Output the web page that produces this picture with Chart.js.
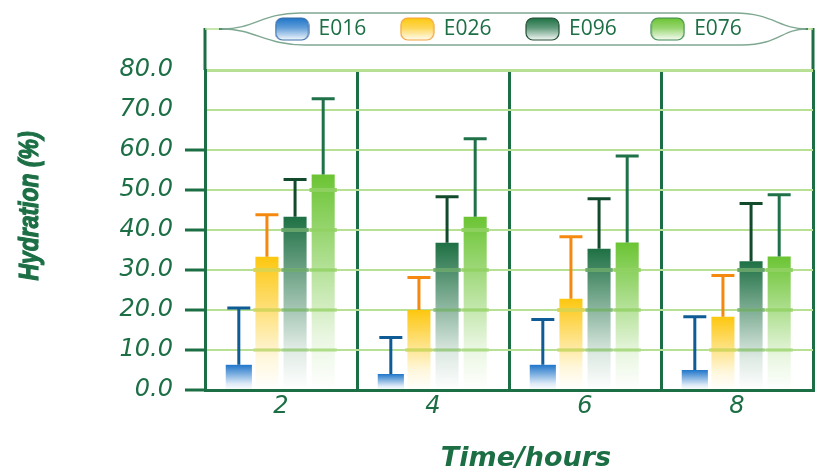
<!DOCTYPE html>
<html>
<head>
<meta charset="utf-8">
<script src="https://cdn.jsdelivr.net/npm/chart.js@4.4.0/dist/chart.umd.min.js"></script>
<style>
  html, body { margin: 0; padding: 0; background: #fff; }
</style>
</head>
<body>
<canvas id="chart" width="817" height="469"></canvas>
<script>
// data (mean + SD, hydration %)
const TIME_LABELS = ['2', '4', '6', '8'];
const SERIES_NAMES = ['E016', 'E026', 'E096', 'E076'];
const E016_MEAN = [6.3, 4.0, 6.3, 5.0];
const E016_SD = [14.2, 9.1, 11.3, 13.3];
const E026_MEAN = [33.3, 20.0, 22.8, 18.3];
const E026_SD = [10.5, 8.1, 15.5, 10.3];
const E096_MEAN = [43.3, 36.8, 35.3, 32.2];
const E096_SD = [9.3, 11.5, 12.5, 14.4];
const E076_MEAN = [53.9, 43.3, 36.9, 33.4];
const E076_SD = [18.9, 19.5, 21.6, 15.4];
const Y_MIN = 0;
const Y_MAX = 80;
const Y_STEP = 10;

const MEANS = [E016_MEAN, E026_MEAN, E096_MEAN, E076_MEAN];
const SDS = [E016_SD, E026_SD, E096_SD, E076_SD];

const TEXT_GREEN = '#1c6f45';
const GRID_GREEN = '#b7e094';
const BAR_RGB = [[31, 117, 201], [253, 199, 15], [30, 112, 68], [107, 196, 51]];
const ERR_COLORS = ['#0e5b96', '#f5890f', '#124a2c', '#1f7148'];
const ICON_BORDERS = ['#3b6ea6', '#f2a23c', '#244f35', '#3f8a50'];
const LEGEND_FONT = 21;
const LEGEND_PAD = 35;

function rgba(c, a) {
    return 'rgba(' + c[0] + ',' + c[1] + ',' + c[2] + ',' + a + ')';
}

function barFill(i) {
    const c = BAR_RGB[i];
    return (context) => {
        const chart = context.chart;
        if (!chart.chartArea || context.type !== 'data') return rgba(c, 1);
        const y = chart.scales.y;
        const top = y.getPixelForValue(context.raw);
        const base = y.getPixelForValue(0);
        const g = chart.ctx.createLinearGradient(0, top, 0, base);
        g.addColorStop(0, rgba(c, 1));
        g.addColorStop(0.4, rgba(c, 0.55));
        g.addColorStop(0.75, rgba(c, 0.15));
        g.addColorStop(1, rgba(c, 0.0));
        return g;
    };
}

// little rounded gradient boxes used as legend markers
function makeIcon(i) {
    const cv = document.createElement('canvas');
    cv.width = 35;
    cv.height = 24;
    const c = cv.getContext('2d');
    const g = c.createLinearGradient(0, 1, 0, 23);
    g.addColorStop(0, rgba(BAR_RGB[i], 1));
    g.addColorStop(0.45, rgba(BAR_RGB[i], 0.7));
    g.addColorStop(1, rgba(BAR_RGB[i], 0.05));
    c.beginPath();
    c.roundRect(1, 1, 33, 22, 7);
    c.fillStyle = '#fff';
    c.fill();
    c.fillStyle = g;
    c.fill();
    c.lineWidth = 1.2;
    c.strokeStyle = ICON_BORDERS[i];
    c.stroke();
    return cv;
}
const ICONS = SERIES_NAMES.map((n, i) => makeIcon(i));

const decorPlugin = {
    id: 'decor',
    afterLayout(chart) {
        // lift the legend row into the band above the plot
        const l = chart.legend;
        const d = (l.top + LEGEND_PAD + LEGEND_FONT / 2) - 29;
        l.top -= d;
        l.bottom -= d;
    },
    beforeDraw(chart) {
        const ctx = chart.ctx;
        const area = chart.chartArea;
        ctx.save();
        ctx.fillStyle = '#fff';
        ctx.fillRect(0, 0, chart.width, chart.height);
        // axis lines reach up to the legend band
        ctx.strokeStyle = TEXT_GREEN;
        ctx.lineWidth = 3;
        ctx.beginPath();
        ctx.moveTo(area.left, 28);
        ctx.lineTo(area.left, area.top);
        ctx.moveTo(area.right, 28);
        ctx.lineTo(area.right, area.top);
        ctx.stroke();
        ctx.lineWidth = 1.5;
        ctx.strokeStyle = GRID_GREEN;
        ctx.beginPath();
        ctx.moveTo(area.left, 29);
        ctx.lineTo(220, 29);
        ctx.moveTo(806, 29);
        ctx.lineTo(area.right, 29);
        ctx.stroke();
        ctx.strokeStyle = TEXT_GREEN;
        ctx.beginPath();
        ctx.moveTo(219, 29);
        ctx.lineTo(228, 29);
        ctx.moveTo(798, 29);
        ctx.lineTo(808, 29);
        ctx.stroke();
        // lens shaped legend frame
        ctx.beginPath();
        ctx.moveTo(222, 29);
        ctx.bezierCurveTo(255, 29, 262, 13, 300, 13);
        ctx.lineTo(735, 13);
        ctx.bezierCurveTo(772, 13, 780, 29, 806, 29);
        ctx.bezierCurveTo(782, 29, 778, 45, 742, 45);
        ctx.lineTo(305, 45);
        ctx.bezierCurveTo(265, 45, 255, 29, 222, 29);
        ctx.closePath();
        ctx.fillStyle = '#fff';
        ctx.fill();
        ctx.strokeStyle = '#7fa892';
        ctx.lineWidth = 1.4;
        ctx.stroke();
        ctx.restore();
    },
    afterDatasetsDraw(chart) {
        const ctx = chart.ctx;
        const y = chart.scales.y;
        ctx.save();
        chart.data.datasets.forEach((ds, i) => {
            const meta = chart.getDatasetMeta(i);
            meta.data.forEach((bar, j) => {
                const p = bar.getProps(['x', 'y', 'width'], true);
                const value = ds.data[j];
                // stripes where the grid lines cross the bar
                for (let lv = Y_STEP; lv < Y_MAX; lv += Y_STEP) {
                    if (value <= lv + 1) break;
                    const py = y.getPixelForValue(lv);
                    ctx.fillStyle = bar.options.backgroundColor;
                    ctx.fillRect(p.x - p.width / 2 - 2, py - 2, p.width + 4, 4);
                    ctx.fillStyle = 'rgba(183,224,148,0.45)';
                    ctx.fillRect(p.x - p.width / 2 - 2, py - 2, p.width + 4, 4);
                }
                // error bar (upper only)
                const top = y.getPixelForValue(value + SDS[i][j]);
                const capW = 23;
                ctx.strokeStyle = ERR_COLORS[i];
                ctx.lineWidth = 3;
                ctx.beginPath();
                ctx.moveTo(p.x, p.y);
                ctx.lineTo(p.x, top);
                ctx.moveTo(p.x - capW / 2, top);
                ctx.lineTo(p.x + capW / 2, top);
                ctx.stroke();
            });
        });
        ctx.restore();
    },
    afterDraw(chart) {
        const ctx = chart.ctx;
        ctx.save();
        ctx.fillStyle = TEXT_GREEN;
        ctx.strokeStyle = TEXT_GREEN;
        ctx.textAlign = 'center';
        ctx.textBaseline = 'middle';
        ctx.font = 'italic bold 27px "DejaVu Sans", sans-serif';
        ctx.fillText('Time/hours', 526, 459);
        ctx.translate(30, 206);
        ctx.rotate(-Math.PI / 2);
        ctx.scale(0.82, 1);
        ctx.font = 'italic bold 28px "Liberation Sans", sans-serif';
        ctx.lineWidth = 1.2;
        ctx.strokeText('Hydration (%)', 0, 0);
        ctx.fillText('Hydration (%)', 0, 0);
        ctx.restore();
    }
};

const datasets = SERIES_NAMES.map((name, i) => ({
    label: name,
    data: MEANS[i],
    backgroundColor: barFill(i),
    borderWidth: 0,
    barPercentage: i === 0 ? 0.93 : 0.82,
    categoryPercentage: 0.74
}));

new Chart(document.getElementById('chart'), {
    type: 'bar',
    data: {
        labels: TIME_LABELS,
        datasets: datasets
    },
    options: {
        responsive: false,
        animation: false,
        layout: {
            padding: { top: 0, right: 4, left: 0, bottom: 0 }
        },
        plugins: {
            tooltip: { enabled: false },
            legend: {
                position: 'top',
                fullSize: false,
                labels: {
                    usePointStyle: true,
                    pointStyleWidth: 32,
                    padding: LEGEND_PAD,
                    color: TEXT_GREEN,
                    font: { family: 'Open Sans', size: LEGEND_FONT },
                    generateLabels: () => SERIES_NAMES.map((n, i) => ({
                        text: n,
                        pointStyle: ICONS[i],
                        fillStyle: rgba(BAR_RGB[i], 1),
                        strokeStyle: ICON_BORDERS[i],
                        lineWidth: 0,
                        fontColor: TEXT_GREEN,
                        hidden: false,
                        datasetIndex: i
                    }))
                }
            }
        },
        scales: {
            x: {
                grid: {
                    offset: true,
                    color: TEXT_GREEN,
                    lineWidth: 3,
                    drawTicks: false
                },
                border: { color: TEXT_GREEN, width: 3 },
                ticks: {
                    color: TEXT_GREEN,
                    padding: 2,
                    font: { family: 'DejaVu Sans', size: 24, style: 'italic' }
                },
                afterFit(scale) {
                    scale.height = 79;
                }
            },
            y: {
                min: Y_MIN,
                max: Y_MAX,
                ticks: {
                    stepSize: Y_STEP,
                    color: TEXT_GREEN,
                    padding: 12,
                    font: { family: 'DejaVu Sans', size: 24, style: 'italic' },
                    callback: (v) => Number(v).toFixed(1)
                },
                grid: {
                    color: GRID_GREEN,
                    lineWidth: (c) => (c.tick && c.tick.value === Y_MAX ? 3 : 2),
                    tickLength: 20,
                    tickColor: (c) => (c.tick && c.tick.value <= 60 ? TEXT_GREEN : 'rgba(0,0,0,0)'),
                    tickWidth: 3
                },
                border: { color: TEXT_GREEN, width: 3 },
                afterFit(scale) {
                    scale.width = 205;
                    scale.paddingTop = 70;
                }
            }
        }
    },
    plugins: [decorPlugin]
});
</script>
</body>
</html>
